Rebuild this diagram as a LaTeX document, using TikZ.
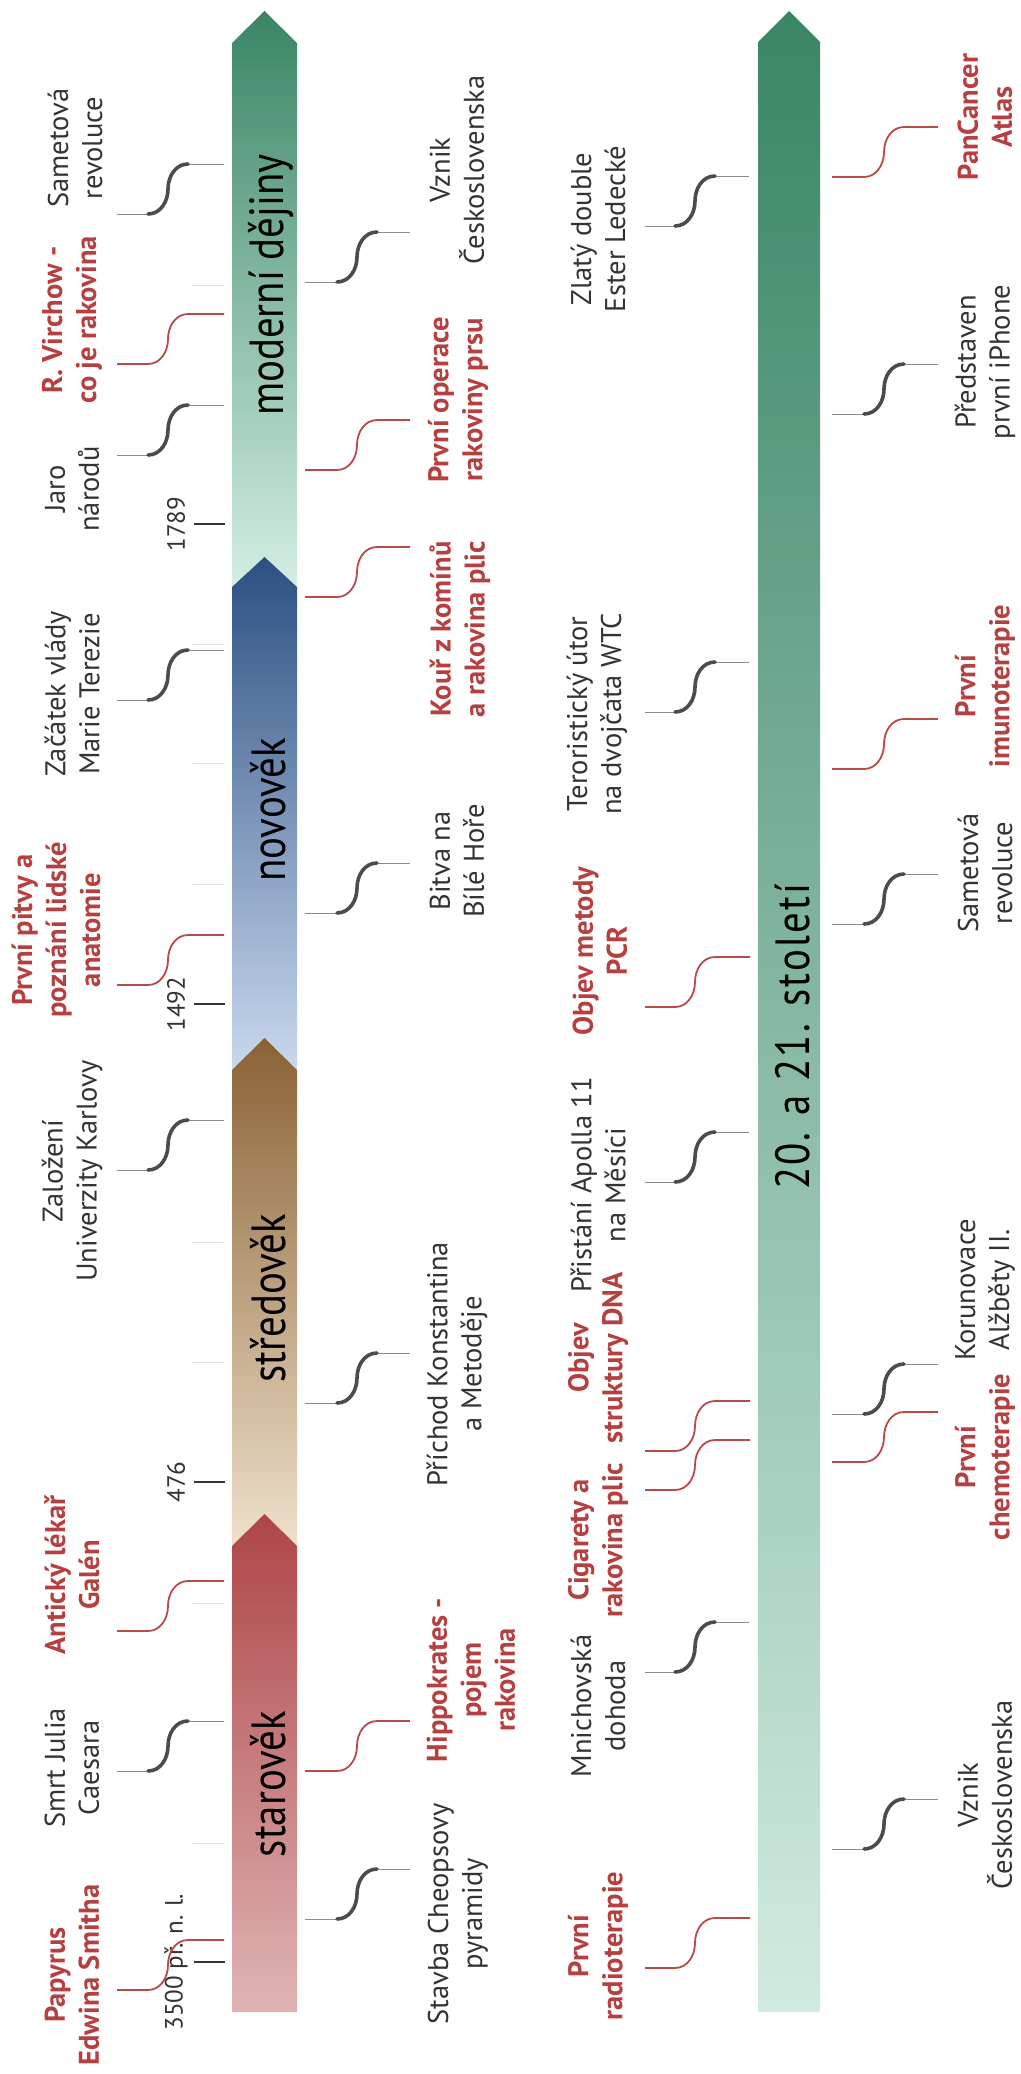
\documentclass[tikz,border=0pt]{standalone}
\usepackage{fontspec}
\setmainfont{PT Sans}
\usepackage{tikz}

\definecolor{ink}{HTML}{333333}
\definecolor{redtxt}{HTML}{B5403F}
\definecolor{redline}{HTML}{B84A48}
\definecolor{modtop}{HTML}{3A8566}
\definecolor{modbot}{HTML}{D3EEE2}
\definecolor{novtop}{HTML}{2C4F82}
\definecolor{novbot}{HTML}{C9D9EE}
\definecolor{stredtop}{HTML}{8A6234}
\definecolor{stredbot}{HTML}{EFE0CC}
\definecolor{startop}{HTML}{AD4547}
\definecolor{starbot}{HTML}{E0B4B4}
\definecolor{cenbot}{HTML}{D0EBDF}

\tikzset{
  evtext/.style={rotate=90, align=center, inner sep=0pt, text=ink,
    font=\fontsize{28.5}{34}\selectfont},
  redev/.style={evtext, text=redtxt, font=\bfseries\fontsize{28.5}{34}\selectfont},
  era/.style={rotate=90, inner sep=0pt, text=black,
    font=\fontsize{48}{52}\selectfont\addfontfeature{FakeStretch=0.85}},
  yr/.style={rotate=90, inner sep=0pt, text=ink, font=\fontsize{25}{30}\selectfont},
  yrtick/.style={draw=ink, line width=2.5pt},
  faint/.style={draw=black!12, line width=1pt},
  thinln/.style={draw=black!45, line width=1pt},
  thickln/.style={draw=black!70, line width=3.6pt, line cap=round},
  redln/.style={draw=redline, line width=1.8pt},
}

\begin{document}
\begin{tikzpicture}[x=1pt, y=-1pt]
  \fill[white] (0,0) rectangle (1020,2074);
  \useasboundingbox (0,0) rectangle (1020,2074);

  % history bar
  \shade[top color=modtop, bottom color=modbot]
    (232,587) -- (232,43) -- (264.5,11) -- (297,43) -- (297,587) -- cycle;
  \shade[top color=novtop, bottom color=novbot]
    (232,1070) -- (232,587) -- (264.5,557) -- (297,587) -- (297,1070) -- cycle;
  \shade[top color=stredtop, bottom color=stredbot]
    (232,1546) -- (232,1070) -- (264.5,1038) -- (297,1070) -- (297,1546) -- cycle;
  \shade[top color=startop, bottom color=starbot]
    (232,2012) -- (232,1546) -- (264.5,1514) -- (297,1546) -- (297,2012) -- cycle;

  % 20th and 21st century bar
  \shade[top color=modtop, bottom color=cenbot]
    (758,2012) -- (758,42) -- (789,11) -- (820,42) -- (820,2012) -- cycle;

  \node[era] (moderni) at (271,285) {moderní dějiny};
  \node[era] (novovek) at (268,810) {novověk};
  \node[era] (stredovek) at (268,1298) {středověk};
  \node[era] (starovek) at (268,1784) {starověk};
  \node[era] (stoleti) at (792,1037) {\addfontfeature{LetterSpace=4.5}20. a 21. století};

  % faint ticks
  \foreach \y in {285,644,763,884,1242,1362,1603,1843}
    \draw[faint] (193,\y) -- (224,\y);

  % era boundaries
  \foreach \n/\y/\t in {y1789/524/1789, y1492/1004/1492, y476/1482/476,
                        y3500/1962/{3500 př. n. l.}}{
    \draw[yrtick] (194,\y) -- (225,\y);
    \node[yr] (\n) at (176,\y) {\t};
  }

  % history bar, left side
  \foreach \n/\y in {sam/164, jaro/405, tereza/650, karlova/1120, caesar/1721}{
    \coordinate (\n-a) at (224,\y);
    \coordinate (\n-b) at (188,\y);
    \coordinate (\n-c) at (148,\y+50);
    \coordinate (\n-d) at (117,\y+50);
    \draw[thinln] (\n-a) -- (\n-b) (\n-c) -- (\n-d);
    \draw[thickln] (\n-b) to[out=180,in=90] ++(-20,25) to[out=-90,in=0] (\n-c);
  }
  \foreach \n/\y in {virchow/314, pitvy/935, galen/1581, papyrus/1940}{
    \coordinate (\n-a) at (224,\y);
    \coordinate (\n-b) at (188,\y);
    \coordinate (\n-c) at (148,\y+50);
    \coordinate (\n-d) at (117,\y+50);
    \draw[redln] (\n-a) -- (\n-b) to[out=180,in=90] ++(-20,25)
      to[out=-90,in=0] (\n-c) -- (\n-d);
  }

  % history bar, right side
  \foreach \n/\y in {vznik/232, bitva/863, prichod/1353, stavba/1869}{
    \coordinate (\n-a) at (305,\y+50);
    \coordinate (\n-b) at (337,\y+50);
    \coordinate (\n-c) at (377,\y);
    \coordinate (\n-d) at (410,\y);
    \draw[thinln] (\n-a) -- (\n-b) (\n-c) -- (\n-d);
    \draw[thickln] (\n-b) to[out=0,in=-90] ++(20,-25) to[out=90,in=180] (\n-c);
  }
  \foreach \n/\y in {operace/420, kour/547, hippo/1721}{
    \coordinate (\n-a) at (305,\y+50);
    \coordinate (\n-b) at (337,\y+50);
    \coordinate (\n-c) at (377,\y);
    \coordinate (\n-d) at (410,\y);
    \draw[redln] (\n-a) -- (\n-b) to[out=0,in=-90] ++(20,-25)
      to[out=90,in=180] (\n-c) -- (\n-d);
  }

  % century bar, left side
  \foreach \n/\y in {zlaty/176, wtc/662, apollo/1132, mnichov/1622}{
    \coordinate (\n-a) at (749,\y);
    \coordinate (\n-b) at (715,\y);
    \coordinate (\n-c) at (675,\y+50);
    \coordinate (\n-d) at (645,\y+50);
    \draw[thinln] (\n-a) -- (\n-b) (\n-c) -- (\n-d);
    \draw[thickln] (\n-b) to[out=180,in=90] ++(-20,25) to[out=-90,in=0] (\n-c);
  }
  \foreach \n/\y in {pcr/957, dna/1401, cigar/1440, radio/1918}{
    \coordinate (\n-a) at (750,\y);
    \coordinate (\n-b) at (715,\y);
    \coordinate (\n-c) at (675,\y+50);
    \coordinate (\n-d) at (645,\y+50);
    \draw[redln] (\n-a) -- (\n-b) to[out=180,in=90] ++(-20,25)
      to[out=-90,in=0] (\n-c) -- (\n-d);
  }

  % century bar, right side
  \foreach \n/\y in {iphone/364, samet/874, koruna/1364, vznikcs/1799}{
    \coordinate (\n-a) at (832,\y+50);
    \coordinate (\n-b) at (864,\y+50);
    \coordinate (\n-c) at (904,\y);
    \coordinate (\n-d) at (938,\y);
    \draw[thinln] (\n-a) -- (\n-b) (\n-c) -- (\n-d);
    \draw[thickln] (\n-b) to[out=0,in=-90] ++(20,-25) to[out=90,in=180] (\n-c);
  }
  \foreach \n/\y in {pancan/127, imuno/719, chemo/1412}{
    \coordinate (\n-a) at (832,\y+50);
    \coordinate (\n-b) at (864,\y+50);
    \coordinate (\n-c) at (904,\y);
    \coordinate (\n-d) at (938,\y);
    \draw[redln] (\n-a) -- (\n-b) to[out=0,in=-90] ++(20,-25)
      to[out=90,in=180] (\n-c) -- (\n-d);
  }

  % labels
  \node[evtext] (samtxt) at (75,148) {Sametová\\revoluce};
  \node[redev] (virchowtxt) at (72,320) {R. Virchow -\\co je rakovina};
  \node[evtext] (jarotxt) at (72,489) {Jaro\\národů};
  \node[evtext] (terezatxt) at (72,694) {Začátek vlády\\Marie Terezie};
  \node[redev] (pitvytxt) at (56,930) {První pitvy a\\poznání lidské\\anatomie};
  \node[evtext] (karlovatxt) at (72,1171) {Založení\\Univerzity Karlovy};
  \node[redev] (galentxt) at (72,1575) {Antický lékař\\Galén};
  \node[evtext] (caesartxt) at (72,1768) {Smrt Julia\\Caesara};
  \node[redev] (papyrustxt) at (72,1975) {Papyrus\\Edwina Smitha};

  \node[evtext] (vzniktxt) at (457,170) {Vznik\\Československa};
  \node[redev] (operacetxt) at (458,400) {První operace\\rakoviny prsu};
  \node[redev] (kourtxt) at (460,629) {Kouř z komínů\\a rakovina plic};
  \node[evtext] (bitvatxt) at (457,861) {Bitva na\\Bílé Hoře};
  \node[evtext] (prichodtxt) at (457,1364) {Příchod Konstantina\\a Metoděje};
  \node[redev] (hippotxt) at (471,1680) {Hippokrates -\\pojem\\rakovina};
  \node[evtext] (stavbatxt) at (458,1914) {Stavba Cheopsovy\\pyramidy};

  \node[evtext] (zlatytxt) at (598,229) {Zlatý double\\Ester Ledecké};
  \node[evtext] (wtctxt) at (597,714) {Teroristický útor\\na dvojčata WTC};
  \node[redev] (pcrtxt) at (600,951) {Objev metody\\PCR};
  \node[evtext] (apollotxt) at (598,1185) {Přistání Apolla 11\\na Měsíci};
  \node[redev] (dnatxt) at (598,1358) {Objev\\struktury DNA};
  \node[redev] (cigartxt) at (598,1540) {Cigarety a\\rakovina plic};
  \node[evtext] (mnichovtxt) at (598,1706) {Mnichovská\\dohoda};
  \node[redev] (radiotxt) at (598,1946) {První\\radioterapie};

  \node[redev] (pancantxt) at (985,117) {PanCancer\\Atlas};
  \node[evtext] (iphonetxt) at (985,362) {Představen\\první iPhone};
  \node[redev] (imunotxt) at (985,686) {První\\imunoterapie};
  \node[evtext] (samettxt) at (985,873) {Sametová\\revoluce};
  \node[evtext] (korunatxt) at (985,1290) {Korunovace\\Alžběty II.};
  \node[redev] (chemotxt) at (985,1457) {První\\chemoterapie};
  \node[evtext] (vznikcstxt) at (985,1795) {Vznik\\Československa};
\end{tikzpicture}
\end{document}
